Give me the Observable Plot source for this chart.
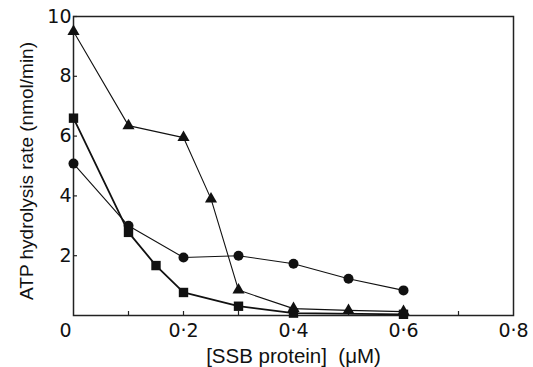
<!DOCTYPE html>
<html>
<head>
<meta charset="utf-8">
<script src="https://cdn.jsdelivr.net/npm/d3@7"></script>
<script src="https://cdn.jsdelivr.net/npm/@observablehq/plot@0.6"></script>
<style>
  html, body { margin: 0; padding: 0; background: #fff; }
</style>
</head>
<body>
<div id="chart"></div>
<script>
// SSB protein concentration (µM) and ATP hydrolysis rate (nmol/min)
const triX = [0, 0.1, 0.2, 0.25, 0.3, 0.4, 0.5, 0.6];
const triY = [9.5, 6.35, 5.95, 3.9, 0.85, 0.23, 0.17, 0.13];
const sqX = [0, 0.1, 0.15, 0.2, 0.3, 0.4, 0.6];
const sqY = [6.6, 2.78, 1.67, 0.77, 0.31, 0.08, 0.04];
const circX = [0, 0.1, 0.2, 0.3, 0.4, 0.5, 0.6];
const circY = [5.08, 3.0, 1.94, 2.0, 1.73, 1.23, 0.84];

const xTicks = [0.1, 0.2, 0.3, 0.4, 0.5, 0.6, 0.7];
const xLabelTicks = [0.2, 0.4, 0.6, 0.8];
const yTicks = [2, 4, 6, 8, 10];
const xTitle = "[SSB protein]\u00a0\u00a0(\u03bcM)";
const yTitle = "ATP hydrolysis rate (nmol/min)";

const toRows = (xs, ys) => xs.map((x, i) => ({x, y: ys[i]}));
const tri = toRows(triX, triY);
const sq = toRows(sqX, sqY);
const circ = toRows(circX, circY);

const W = 533, H = 367;
const mL = 73, mR = 20, mT = 16, mB = 52;
const fmt = d => d === 0 ? "0" : d.toFixed(1).replace(".", "\u00b7");
const tickFont = "'DejaVu Sans', sans-serif";

const chart = Plot.plot({
  width: W,
  height: H,
  marginLeft: mL,
  marginRight: mR,
  marginTop: mT,
  marginBottom: mB,
  style: {fontFamily: "'Liberation Sans', Arial, sans-serif", fontSize: "19px", color: "#111", background: "#fff", overflow: "visible"},
  x: {domain: [0, 0.8]},
  y: {domain: [0, 10]},
  marks: [
    Plot.frame({stroke: "#222", strokeWidth: 1.5}),
    // inward tick marks
    Plot.tickX(xTicks, {x: d => d, insetTop: H - mT - mB - 4, stroke: "#222", strokeWidth: 1.2}),
    Plot.tickY(yTicks, {y: d => d, insetRight: W - mL - mR - 4, stroke: "#222", strokeWidth: 1.2}),
    // tick labels
    Plot.axisX(xLabelTicks, {tickSize: 0, tickPadding: 8, tickFormat: fmt, label: null, fontSize: 19, fontFamily: tickFont}),
    Plot.axisX([0], {tickSize: 0, tickPadding: 8, tickFormat: fmt, label: null, dx: -8, fontSize: 19, fontFamily: tickFont}),
    Plot.axisY(yTicks, {tickSize: 0, tickPadding: 2, label: null, fontSize: 19, fontFamily: tickFont}),
    // axis titles
    Plot.text([xTitle], {frameAnchor: "bottom", dy: 41, fontSize: 20.5, lineAnchor: "middle"}),
    Plot.text([yTitle], {frameAnchor: "left", dx: -47, dy: 5, rotate: -90, textAnchor: "middle", fontSize: 19, lineAnchor: "middle"}),
    // series
    Plot.line(circ, {x: "x", y: "y", stroke: "#111", strokeWidth: 1.1}),
    Plot.line(tri, {x: "x", y: "y", stroke: "#111", strokeWidth: 1.1}),
    Plot.line(sq, {x: "x", y: "y", stroke: "#111", strokeWidth: 1.8}),
    Plot.dot(circ, {x: "x", y: "y", symbol: "circle", r: 5, fill: "#111"}),
    Plot.dot(tri, {x: "x", y: "y", symbol: "triangle", r: 4.5, fill: "#111"}),
    Plot.dot(sq, {x: "x", y: "y", symbol: "square", r: 5.3, fill: "#111"})
  ]
});
document.getElementById("chart").appendChild(chart);
</script>
</body>
</html>
